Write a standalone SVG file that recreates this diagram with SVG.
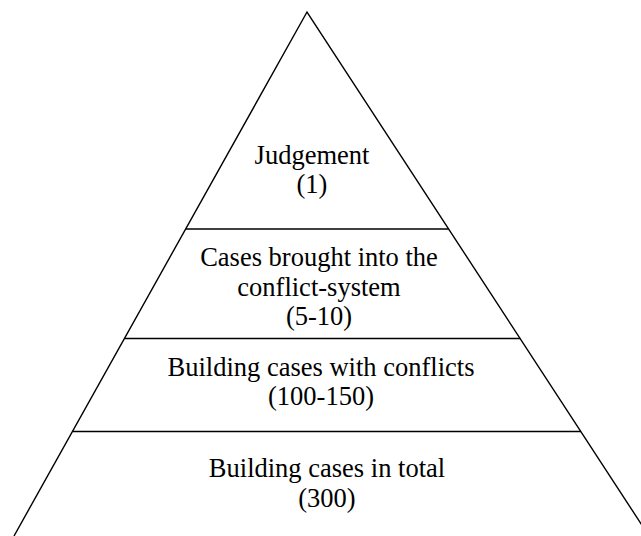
<svg xmlns="http://www.w3.org/2000/svg" width="641" height="536" viewBox="0 0 641 536">
<style>
.edge{fill:none;stroke:#000;stroke-width:1.4}
.div{fill:none;stroke:#000;stroke-width:1.6}
.t{font-family:"Liberation Serif","Times New Roman",serif;font-size:26.5px;fill:#000;text-anchor:middle}
</style>
<rect width="641" height="536" fill="#fff"/>
<g id="outline">
<polyline class="edge" points="14,536 307,12 649,536"/>
<line class="div" x1="185.7" y1="229" x2="448.7" y2="229"/>
<line class="div" x1="124.5" y1="338.5" x2="520.2" y2="338.5"/>
<line class="div" x1="72.5" y1="431.5" x2="581" y2="431.5"/>
</g>
<g id="tier-judgement">
<text class="t" x="312" y="163.5">Judgement</text>
<text class="t" x="312" y="192.5">(1)</text>
</g>
<g id="tier-conflict-system">
<text class="t" x="319" y="266">Cases brought into the</text>
<text class="t" x="319" y="295.5">conflict-system</text>
<text class="t" x="319" y="324.5">(5-10)</text>
</g>
<g id="tier-conflicts">
<text class="t" x="321" y="375.5">Building cases with conflicts</text>
<text class="t" x="321" y="405">(100-150)</text>
</g>
<g id="tier-total">
<text class="t" x="327" y="477">Building cases in total</text>
<text class="t" x="327" y="507">(300)</text>
</g>
</svg>
